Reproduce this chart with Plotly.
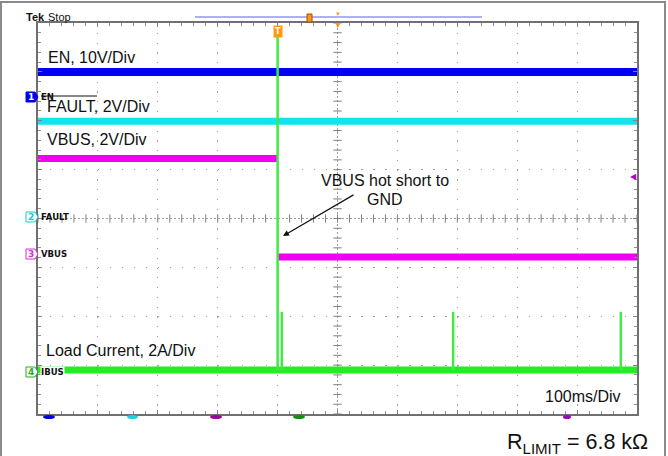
import numpy as np
import plotly.graph_objects as go

# ---------------- data (time in ms, amplitude in screen divisions) ----------------
t_span = [0, 1000]                    # 10 div x 100 ms/div
en_level = [7.0, 7.0]                 # EN, 10V/Div
fault_level = [5.99, 5.99]            # FAULT, 2V/Div
short_time = 400                      # VBUS hot short to GND
vbus_before = 5.23                    # VBUS level before short
vbus_after = 3.21                     # VBUS level after short
ibus_base = [0.90, 0.90]              # Load Current baseline
spike_times = [400, 407, 693, 973]    # current spikes
spike_peaks = [7.9, 2.09, 2.09, 2.09]

W, H = 668, 456
L, R, T, B = 38, 637, 23, 414


def px(x):
    return (x - L) / (R - L)


def py(y):
    return (B - y) / (B - T)


fig = go.Figure()

# graticule centre cross ticks (decoration)
cx = np.arange(0, 1000.1, 20)
cy = np.arange(0, 8.01, 0.2)
fig.add_trace(go.Scatter(x=cx, y=[4] * len(cx), mode="markers",
                         marker=dict(symbol="line-ns", size=6, line=dict(width=1, color="#808080")),
                         hoverinfo="skip", showlegend=False))
fig.add_trace(go.Scatter(x=[500] * len(cy), y=cy, mode="markers",
                         marker=dict(symbol="line-ew", size=6, line=dict(width=1, color="#808080")),
                         hoverinfo="skip", showlegend=False))

# EN
fig.add_trace(go.Scatter(x=t_span, y=en_level, mode="lines",
                         line=dict(color="#0000f2", width=8), showlegend=False))
# FAULT
fig.add_trace(go.Scatter(x=t_span, y=fault_level, mode="lines",
                         line=dict(color="#10e4ee", width=7), showlegend=False))
# VBUS
fig.add_trace(go.Scatter(x=[t_span[0], short_time, None, short_time, t_span[1]],
                         y=[vbus_before, vbus_before, None, vbus_after, vbus_after],
                         mode="lines", line=dict(color="#f000f0", width=7), showlegend=False))
# Load current
fig.add_trace(go.Scatter(x=t_span, y=ibus_base, mode="lines",
                         line=dict(color="#22ee22", width=7), showlegend=False))
sx, sy = [], []
for st, sp in zip(spike_times, spike_peaks):
    sx += [st, st, None]
    sy += [ibus_base[0], sp, None]
fig.add_trace(go.Scatter(x=sx, y=sy, mode="lines",
                         line=dict(color="#44e844", width=2.5), showlegend=False))

axis_common = dict(showticklabels=False, showline=True, linecolor="#707070", linewidth=2,
                   mirror="allticks", ticks="inside", ticklen=4, tickcolor="#808080",
                   showgrid=True, gridcolor="#a0a0a0", gridwidth=1.2, zeroline=False,
                   fixedrange=True)
fig.update_xaxes(range=[0, 1000], dtick=100, griddash="1.2px,8.58px",
                 minor=dict(dtick=20, ticks="inside", ticklen=3, tickcolor="#909090", showgrid=False),
                 **axis_common)
fig.update_yaxes(range=[0, 8], dtick=1, griddash="1.2px,10.78px",
                 minor=dict(dtick=0.2, ticks="inside", ticklen=3, tickcolor="#909090", showgrid=False),
                 **axis_common)

shapes = []
# centre cross lines
shapes.append(dict(type="line", xref="x", yref="y", x0=0, x1=1000, y0=4, y1=4,
                   line=dict(color="#a0a0a0", width=1, dash="2px,2px"), layer="below"))
shapes.append(dict(type="line", xref="x", yref="y", x0=500, x1=500, y0=0, y1=8,
                   line=dict(color="#a0a0a0", width=1, dash="2px,2px"), layer="below"))
# outer frame
shapes.append(dict(type="rect", xref="paper", yref="paper", x0=px(1), x1=px(665), y0=py(470), y1=py(2),
                   line=dict(color="#8a8a8a", width=2)))
# header line
shapes.append(dict(type="line", xref="paper", yref="paper", x0=px(195), x1=px(482), y0=py(17), y1=py(17),
                   line=dict(color="#6060e8", width=1)))
shapes.append(dict(type="rect", xref="paper", yref="paper", x0=px(307), x1=px(312), y0=py(22), y1=py(14),
                   fillcolor="#ff9a10", line=dict(color="#a05000", width=1)))
# overline for FAULT
shapes.append(dict(type="line", xref="paper", yref="paper", x0=px(41), x1=px(97), y0=py(96), y1=py(96),
                   line=dict(color="#111", width=1)))


def pent(x0, y0, x1, y1):
    xm = x1 - 3
    ym = (y0 + y1) / 2
    pts = [(x0, y0), (xm, y0), (x1, ym), (xm, y1), (x0, y1)]
    return "M " + " L ".join(f"{px(a):.5f},{py(b):.5f}" for a, b in pts) + " Z"


chan = [("1", 97, "#0000f0", True, "EN"),
        ("2", 217, "#20c8d0", False, "FAULT"),
        ("3", 254, "#d030d0", False, "VBUS"),
        ("4", 372, "#20b020", False, "IBUS")]
annotations = []
for num, yy, col, filled, lab in chan:
    shapes.append(dict(type="path", xref="paper", yref="paper", path=pent(26, yy - 5, 38, yy + 5),
                       fillcolor=col if filled else "white", line=dict(color=col, width=1)))
    annotations.append(dict(xref="paper", yref="paper", x=px(31), y=py(yy), text="<b>%s</b>" % num,
                            showarrow=False, xanchor="center", yanchor="middle",
                            font=dict(family="DejaVu Sans", size=9, color="white" if filled else col)))
    annotations.append(dict(xref="paper", yref="paper", x=px(40), y=py(yy), text="<b>%s</b>" % lab,
                            showarrow=False, xanchor="left", yanchor="middle", borderpad=0,
                            bgcolor="white" if lab == "IBUS" else None,
                            font=dict(family="DejaVu Sans", size=8.5, color="#111")))

# bottom status ovals
for x0, x1, col in [(43, 55, "#0000f0"), (127, 138, "#10d8e0"), (210, 222, "#a000a0"),
                    (293, 305, "#109010"), (563, 571, "#a000b0")]:
    shapes.append(dict(type="circle", xref="paper", yref="paper", x0=px(x0), x1=px(x1),
                       y0=py(419), y1=py(415), fillcolor=col, line=dict(width=0)))

lab_font = dict(family="Liberation Sans, Arial", size=16, color="#111")


def lab(text, x, y, anchor="left", size=16):
    f = dict(lab_font)
    f["size"] = size
    annotations.append(dict(xref="paper", yref="paper", x=px(x), y=py(y), text=text, showarrow=False,
                            xanchor=anchor, yanchor="middle", font=f))


lab("EN, 10V/Div", 46, 58)
lab("FAULT, 2V/Div", 45, 106)
lab("VBUS, 2V/Div", 45, 139)
lab("Load Current, 2A/Div", 44, 350)
lab("100ms/Div", 543, 396)
lab("VBUS hot short to", 385, 180, anchor="center")
lab("GND", 385, 199, anchor="center")
lab("R<sub>LIMIT</sub> = 6.8 kΩ", 505, 443, size=21.5)
lab("<b>Tek</b>", 24, 17, size=11)
lab("Stop", 46, 17, size=11)

# arrow
annotations.append(dict(xref="paper", yref="paper", x=px(283), y=py(236), ax=72, ay=-42,
                        text="", showarrow=True, arrowhead=2, arrowsize=1, arrowwidth=1.2,
                        arrowcolor="#111", standoff=0))

# trigger markers
annotations.append(dict(xref="paper", yref="paper", x=px(278), y=py(32), text="<b>T</b>", showarrow=False,
                        xanchor="center", yanchor="middle", bgcolor="#ff9a10", borderpad=1,
                        font=dict(family="DejaVu Sans", size=8, color="white")))
annotations.append(dict(xref="paper", yref="paper", x=px(338), y=py(14), text="▼", showarrow=False,
                        xanchor="center", yanchor="middle", font=dict(size=6, color="#ff9a10")))
annotations.append(dict(xref="paper", yref="paper", x=px(338), y=py(24), text="▼", showarrow=False,
                        xanchor="center", yanchor="middle", font=dict(size=8, color="#ff9a10")))
annotations.append(dict(xref="paper", yref="paper", x=px(633), y=py(175), text="◀", showarrow=False,
                        xanchor="center", yanchor="middle", font=dict(size=8, color="#b000c0")))

fig.update_layout(width=W, height=H, margin=dict(l=L, r=W - R, t=T, b=H - B),
                  paper_bgcolor="white", plot_bgcolor="white",
                  shapes=shapes, annotations=annotations, showlegend=False)

fig.write_html("out.html", config={"displayModeBar": False},
               post_script="document.body.style.margin='0';document.body.style.overflow='hidden';")
